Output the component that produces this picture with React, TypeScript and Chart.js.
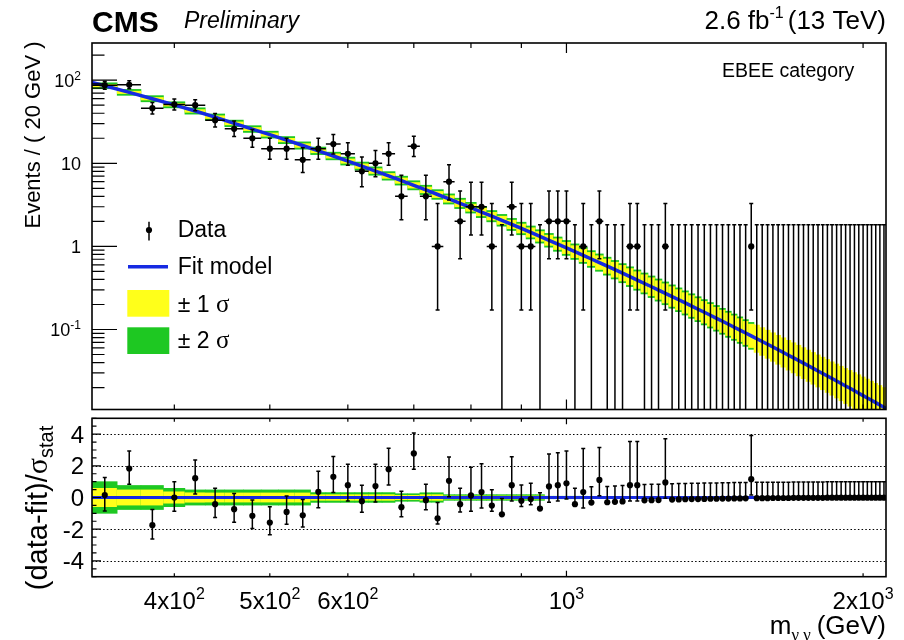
import React, { useEffect, useRef } from "react";
import { Chart, registerables } from "chart.js";

Chart.register(...registerables);

// ---------------- data ----------------
const binCenters = [340, 360, 380, 400, 420, 440, 460, 480, 500, 520, 540, 560, 580, 600, 620, 640, 660, 680, 700, 720, 740, 760, 780, 800, 820, 840, 860, 880, 900, 920, 940, 960, 980, 1000, 1020, 1040, 1060, 1080, 1100, 1120, 1140, 1160, 1180, 1200, 1220, 1240, 1260, 1280, 1300, 1320, 1340, 1360, 1380, 1400, 1420, 1440, 1460, 1480, 1500, 1520, 1540, 1560, 1580, 1600, 1620, 1640, 1660, 1680, 1700, 1720, 1740, 1760, 1780, 1800, 1820, 1840, 1860, 1880, 1900, 1920, 1940, 1960, 1980, 2000, 2020, 2040, 2060, 2080, 2100];
const binHalfWidth = 10;

const counts = [87, 88, 46, 51, 50, 33, 26, 20, 15, 15,
  11, 15, 17, 13, 8, 10, 13, 4, 16, 4,
  1, 6, 2, 3, 3, 1, 0, 3, 1, 1,
  0, 2, 2, 2, 0, 1, 0, 2, 0, 0,
  0, 1, 1, 0, 0, 0, 1, 0, 0, 0,
  0, 0, 0, 0, 0, 0, 0, 0, 0, 0,
  1, 0, 0, 0, 0, 0, 0, 0, 0, 0,
  0, 0, 0, 0, 0, 0, 0, 0, 0, 0,
  0, 0, 0, 0, 0, 0, 0, 0, 0];

const pulls = [0.15, 1.83, -1.75, 0.0, 1.22, -0.42, -0.74, -1.16, -1.58, -0.91,
  -1.12, 0.36, 1.31, 0.78, -0.23, 0.72, 1.79, -0.61, 2.78, -0.17,
  -1.31, 1.05, -0.42, 0.13, 0.34, -0.51, -1.06, 0.78, -0.21, -0.1,
  -0.7, 0.7, 0.78, 0.9, -0.42, 0.34, -0.32, 1.11, -0.3, -0.27,
  -0.25, 0.78, 0.78, -0.18, -0.17, -0.16, 0.95, -0.13, -0.12, -0.11,
  -0.1, -0.1, -0.09, -0.08, -0.08, -0.07, -0.07, -0.06, -0.06, -0.05,
  1.16, -0.04, -0.04, -0.04, -0.03, -0.03, -0.03, -0.03, -0.02, -0.02,
  -0.02, -0.02, -0.02, -0.02, -0.02, -0.01, -0.01, -0.01, -0.01, -0.01,
  -0.01, -0.01, -0.01, -0.01, -0.01, -0.01, -0.01, -0.01, -0.01];

const fitMass = [330, ...binCenters, 2110];
const fitValues = [94, 85.6, 71.3, 59.8, 50.5, 42.6, 35.9, 30.2, 25.8, 22.1, 19.0,
  16.35, 14.12, 12.23, 10.62, 9.24, 8.06, 7.05, 6.18, 5.43, 4.78,
  4.21, 3.72, 3.29, 2.92, 2.59, 2.31, 2.06, 1.836, 1.642, 1.47,
  1.318, 1.184, 1.064, 0.958, 0.864, 0.78, 0.705, 0.638, 0.578, 0.524,
  0.476, 0.432, 0.393, 0.358, 0.3266, 0.2982, 0.2723, 0.249, 0.2279, 0.2087,
  0.1913, 0.1755, 0.1612, 0.1482, 0.1363, 0.1255, 0.1156, 0.1066, 0.0983, 0.0908,
  0.0838, 0.0775, 0.0717, 0.0664, 0.0615, 0.057, 0.0529, 0.049, 0.0456, 0.0423,
  0.0394, 0.0366, 0.0341, 0.0317, 0.0296, 0.0276, 0.0257, 0.024, 0.0224, 0.0209,
  0.0196, 0.0183, 0.0171, 0.016, 0.015, 0.01406, 0.01318, 0.01236, 0.01159, 0.01123];

// top panel bands: relative half-widths (%) of the fit, per bin
const greenPct = [9.6, 9.6, 9.9, 9.9, 10.2, 10.2, 10.5, 10.8, 11.1, 11.4,
  11.7, 12.0, 12.3, 12.7, 13.0, 13.3, 13.6, 14.2, 14.6, 14.9,
  15.5, 16.2, 16.5, 17.1, 17.8, 18.1, 18.8, 19.4, 20.1, 20.8,
  21.4, 22.1, 23.1, 24.2, 25.2, 26.3, 27.3, 28.4, 29.5, 30.5,
  31.6, 32.7, 33.8, 34.9, 36.1, 37.2, 38.4, 39.5, 40.3, 41.1,
  41.9, 42.6, 43.4, 43.8, 44.2, 44.6, 45.0, 45.4, 45.8, 46.2,
  46.6];
const yellowPct = [4.3, 4.3, 4.5, 4.5, 4.8, 4.8, 5.1, 5.4, 5.7, 6.0,
  6.3, 6.6, 6.9, 7.2, 7.5, 7.8, 8.1, 8.7, 9.0, 9.3,
  9.9, 10.5, 10.8, 11.4, 12.0, 12.3, 13.0, 13.6, 14.2, 14.9,
  15.5, 16.2, 17.1, 18.1, 19.1, 20.1, 21.1, 22.1, 23.1, 24.2,
  25.2, 26.3, 27.3, 28.4, 29.5, 30.5, 31.6, 32.7, 33.5, 34.2,
  34.9, 35.7, 36.4, 36.8, 37.2, 37.6, 38.0, 38.4, 38.7, 39.1,
  39.5, 47.5, 48.3, 49.1, 49.9, 50.8, 51.6, 52.5, 53.3, 54.2,
  55.0, 55.9, 56.8, 57.6, 58.5, 59.4, 60.3, 61.6, 62.9, 64.3,
  65.7, 67.1, 68.5, 69.4, 70.4, 71.3, 72.2, 73.2, 74.2];

// bottom panel bands (units of sigma_stat)
const pullBand2 = [1.02, 0.78, 0.78, 0.6, 0.5, 0.5, 0.5, 0.5, 0.5, 0.5,
  0.5, 0.33, 0.33, 0.33, 0.33, 0.33, 0.33, 0.26, 0.26, 0.32,
  0.32, 0.2, 0.2, 0.2, 0.2, 0.2, 0.2, 0.2, 0.2, 0.2,
  0.2, 0.1, 0.1, 0.1, 0.1, 0.1, 0.06, 0.06, 0.06, 0.06,
  0.05, 0.05, 0.05, 0.05, 0.05, 0.05, 0.05, 0.05, 0.05, 0.05,
  0.04, 0.04, 0.04, 0.04, 0.04, 0.04, 0.04, 0.04, 0.04, 0.04,
  0.03, 0.03, 0.03, 0.03, 0.03, 0.03, 0.03, 0.03, 0.03, 0.03,
  0.02, 0.02, 0.02, 0.02, 0.02, 0.02, 0.02, 0.02, 0.02, 0.02,
  0.02, 0.02, 0.02, 0.02, 0.02, 0.02, 0.02, 0.02, 0.02];
const pullBand1 = [0.6, 0.5, 0.5, 0.38, 0.32, 0.31, 0.31, 0.31, 0.31, 0.31,
  0.31, 0.2, 0.2, 0.2, 0.2, 0.2, 0.2, 0.16, 0.16, 0.2,
  0.2, 0.12, 0.12, 0.12, 0.12, 0.12, 0.12, 0.12, 0.12, 0.12,
  0.12, 0.06, 0.06, 0.06, 0.06, 0.06, 0.04, 0.04, 0.04, 0.04,
  0.03, 0.03, 0.03, 0.03, 0.03, 0.03, 0.03, 0.03, 0.03, 0.03,
  0.02, 0.02, 0.02, 0.02, 0.02, 0.02, 0.02, 0.02, 0.02, 0.02,
  0.01, 0.01, 0.01, 0.01, 0.01, 0.01, 0.01, 0.01, 0.01, 0.01,
  0.01, 0.01, 0.01, 0.01, 0.01, 0.01, 0.01, 0.01, 0.01, 0.01,
  0.01, 0.01, 0.01, 0.01, 0.01, 0.01, 0.01, 0.01, 0.01];

// axes
const xMin = 330;
const xMax = 2110;
const yTopMin = 0.0109;
const yTopMax = 280;
const yBotMin = -5;
const yBotMax = 5;
const xTickValues = [400, 500, 600, 700, 800, 900, 1000, 2000];
const xLabelValues = [400, 500, 600, 1000, 2000];
const xLabelBase = ["4x10", "5x10", "6x10", "10", "2x10"];
const xLabelExp = ["2", "2", "2", "3", "3"];
const yTopLabelValues = [100, 10, 1, 0.1];
const yTopLabelBase = ["10", "10", "1", "10"];
const yTopLabelExp = ["2", "", "", "-1"];
const yBotLabelValues = [4, 2, 0, -2, -4];
const yBotGridValues = [4, 2, 0, -2, -4];

// ---------------- style ----------------
const BLUE = "rgb(22,42,226)";
const YELLOW = "#ffff1a";
const GREEN = "rgb(30,200,34)";
const SANS = '"Liberation Sans", Arial, Helvetica, sans-serif';
const SERIF = '"Liberation Serif", "DejaVu Serif", "Times New Roman", serif';
const TOP_H = 414;
const BOT_H = 226;
const CAP = 2;
const MARKER_R = 3.1;
const BAR_W = 1.5;

function poissonLow(n: number) {
  if (n <= 0) return 0;
  const a = 1 - 1 / (9 * n) - 1 / (3 * Math.sqrt(n));
  return n * a * a * a;
}
function poissonHigh(n: number) {
  const m = n + 1;
  const a = 1 - 1 / (9 * m) + 1 / (3 * Math.sqrt(m));
  return m * a * a * a;
}

type Seg = { text: string; font: string; dy?: number; gap?: number };
function rich(ctx: CanvasRenderingContext2D, segs: Seg[], x: number, y: number, align: "left" | "right" | "center") {
  ctx.textAlign = "left";
  ctx.textBaseline = "alphabetic";
  let total = 0;
  const widths = segs.map((s) => {
    ctx.font = s.font;
    const w = ctx.measureText(s.text).width;
    total += w + (s.gap || 0);
    return w;
  });
  let cx = align === "right" ? x - total : align === "center" ? x - total / 2 : x;
  segs.forEach((s, i) => {
    ctx.font = s.font;
    ctx.fillText(s.text, cx, y + (s.dy || 0));
    cx += widths[i] + (s.gap || 0);
  });
}

function clipArea(ctx: CanvasRenderingContext2D, a: any) {
  ctx.beginPath();
  ctx.rect(a.left, a.top, a.right - a.left, a.bottom - a.top);
  ctx.clip();
}

function drawXTicks(ctx: CanvasRenderingContext2D, xs: any, a: any, major: number, minor: number) {
  ctx.beginPath();
  xTickValues.forEach((v) => {
    const px = xs.getPixelForValue(v);
    const len = v === 1000 ? major : minor;
    ctx.moveTo(px, a.bottom);
    ctx.lineTo(px, a.bottom - len);
    ctx.moveTo(px, a.top);
    ctx.lineTo(px, a.top + len);
  });
  ctx.stroke();
}

const topPlugin = {
  id: "topPanel",
  beforeDatasetsDraw(chart: any) {
    const { ctx, chartArea: a } = chart;
    const xs = chart.scales.x;
    const ys = chart.scales.y;
    ctx.save();
    clipArea(ctx, a);
    binCenters.forEach((m, k) => {
      const fv = fitValues[k + 1];
      const x0 = xs.getPixelForValue(m - binHalfWidth);
      const x1 = xs.getPixelForValue(m + binHalfWidth);
      const g = greenPct[k];
      if (g !== undefined) {
        const r = 1 + g / 100;
        const yt = ys.getPixelForValue(fv * r);
        const yb = ys.getPixelForValue(fv / r);
        ctx.fillStyle = GREEN;
        ctx.fillRect(x0 - 0.3, yt, x1 - x0 + 0.6, yb - yt);
      }
      const r1 = 1 + yellowPct[k] / 100;
      const yt1 = ys.getPixelForValue(fv * r1);
      const yb1 = ys.getPixelForValue(fv / r1);
      ctx.fillStyle = YELLOW;
      ctx.fillRect(x0 - 0.3, yt1, x1 - x0 + 0.6, yb1 - yt1);
    });
    ctx.restore();
  },
  beforeDatasetDraw(chart: any, args: any) {
    if (args.index !== 0) return;
    const { ctx, chartArea: a } = chart;
    const xs = chart.scales.x;
    const ys = chart.scales.y;
    ctx.save();
    clipArea(ctx, a);
    ctx.strokeStyle = "#000";
    ctx.lineWidth = BAR_W;
    ctx.beginPath();
    binCenters.forEach((m, k) => {
      const n = counts[k];
      const px = xs.getPixelForValue(m);
      const yHi = ys.getPixelForValue(poissonHigh(n));
      const yLo = n > 0 ? ys.getPixelForValue(poissonLow(n)) : a.bottom + 3;
      ctx.moveTo(px, yLo);
      ctx.lineTo(px, yHi);
      ctx.moveTo(px - CAP, yHi);
      ctx.lineTo(px + CAP, yHi);
      if (n > 0) {
        ctx.moveTo(px - CAP, yLo);
        ctx.lineTo(px + CAP, yLo);
        const py = ys.getPixelForValue(n);
        ctx.moveTo(xs.getPixelForValue(m - binHalfWidth), py);
        ctx.lineTo(xs.getPixelForValue(m + binHalfWidth), py);
      }
    });
    ctx.stroke();
    ctx.restore();
  },
  afterDraw(chart: any) {
    const { ctx, chartArea: a } = chart;
    const xs = chart.scales.x;
    const ys = chart.scales.y;
    ctx.save();
    ctx.strokeStyle = "#000";
    ctx.fillStyle = "#000";
    ctx.lineWidth = 1.2;
    drawXTicks(ctx, xs, a, 10, 5);
    ctx.beginPath();
    for (let e = -2; e <= 2; e++) {
      for (let j = 1; j <= 9; j++) {
        const v = j * Math.pow(10, e);
        if (v < yTopMin || v > yTopMax) continue;
        const py = ys.getPixelForValue(v);
        const len = j === 1 ? 25 : 12.5;
        ctx.moveTo(a.left, py);
        ctx.lineTo(a.left + len, py);
      }
    }
    ctx.stroke();
    ctx.lineWidth = 1.6;
    ctx.strokeRect(a.left, a.top, a.right - a.left, a.bottom - a.top);

    // y labels
    yTopLabelValues.forEach((v, i) => {
      const py = ys.getPixelForValue(v);
      const segs: Seg[] = [{ text: yTopLabelBase[i], font: `18px ${SANS}` }];
      if (yTopLabelExp[i]) segs.push({ text: yTopLabelExp[i], font: `12px ${SANS}`, dy: -7 });
      rich(ctx, segs, 81, py + 7, "right");
    });

    // y title
    ctx.save();
    ctx.translate(40, 135);
    ctx.rotate(-Math.PI / 2);
    rich(ctx, [{ text: "Events / ( 20 GeV )", font: `22px ${SANS}` }], 0, 0, "center");
    ctx.restore();

    // header
    rich(ctx, [{ text: "CMS", font: `bold 30px ${SANS}` }], 92, 32, "left");
    rich(ctx, [{ text: "Preliminary", font: `italic 23px ${SANS}` }], 184, 28, "left");
    rich(ctx, [
      { text: "2.6 fb", font: `26px ${SANS}` },
      { text: "-1", font: `16px ${SANS}`, dy: -11, gap: 4 },
      { text: "(13 TeV)", font: `26px ${SANS}` },
    ], 886, 29, "right");
    rich(ctx, [{ text: "EBEE category", font: `19.5px ${SANS}` }], 722, 77, "left");

    // legend
    ctx.lineWidth = BAR_W;
    ctx.beginPath();
    ctx.moveTo(149, 221.7);
    ctx.lineTo(149, 240.5);
    ctx.stroke();
    ctx.beginPath();
    ctx.arc(149, 230, MARKER_R, 0, Math.PI * 2);
    ctx.fill();
    rich(ctx, [{ text: "Data", font: `23px ${SANS}` }], 177.7, 237, "left");
    ctx.strokeStyle = BLUE;
    ctx.lineWidth = 3.5;
    ctx.beginPath();
    ctx.moveTo(128, 266.7);
    ctx.lineTo(168, 266.7);
    ctx.stroke();
    rich(ctx, [{ text: "Fit model", font: `23px ${SANS}` }], 177.7, 274, "left");
    ctx.fillStyle = YELLOW;
    ctx.fillRect(127.3, 290, 42, 26.7);
    ctx.fillStyle = GREEN;
    ctx.fillRect(127.3, 327.3, 42, 26.7);
    ctx.fillStyle = "#000";
    rich(ctx, [{ text: "± 1 ", font: `23px ${SANS}` }, { text: "σ", font: `25px ${SERIF}` }], 177.7, 311.7, "left");
    rich(ctx, [{ text: "± 2 ", font: `23px ${SANS}` }, { text: "σ", font: `25px ${SERIF}` }], 177.7, 348.3, "left");
    ctx.restore();
  },
};

const botPlugin = {
  id: "bottomPanel",
  beforeDatasetsDraw(chart: any) {
    const { ctx, chartArea: a } = chart;
    const xs = chart.scales.x;
    const ys = chart.scales.y;
    ctx.save();
    clipArea(ctx, a);
    // dotted grid
    ctx.strokeStyle = "#000";
    ctx.lineWidth = 1;
    ctx.setLineDash([1.5, 2.2]);
    ctx.beginPath();
    yBotGridValues.forEach((v) => {
      const py = Math.round(ys.getPixelForValue(v)) + 0.5;
      ctx.moveTo(a.left, py);
      ctx.lineTo(a.right, py);
    });
    ctx.stroke();
    ctx.setLineDash([]);
    binCenters.forEach((m, k) => {
      const x0 = xs.getPixelForValue(m - binHalfWidth);
      const x1 = xs.getPixelForValue(m + binHalfWidth);
      const g = pullBand2[k];
      const yv = pullBand1[k];
      ctx.fillStyle = GREEN;
      const gt = ys.getPixelForValue(g);
      const gb = ys.getPixelForValue(-g);
      ctx.fillRect(x0 - 0.3, gt, x1 - x0 + 0.6, gb - gt);
      ctx.fillStyle = YELLOW;
      const yt = ys.getPixelForValue(yv);
      const yb = ys.getPixelForValue(-yv);
      ctx.fillRect(x0 - 0.3, yt, x1 - x0 + 0.6, yb - yt);
    });
    ctx.restore();
  },
  beforeDatasetDraw(chart: any, args: any) {
    if (args.index !== 0) return;
    const { ctx, chartArea: a } = chart;
    const xs = chart.scales.x;
    const ys = chart.scales.y;
    ctx.save();
    clipArea(ctx, a);
    ctx.strokeStyle = "#000";
    ctx.lineWidth = BAR_W;
    ctx.beginPath();
    binCenters.forEach((m, k) => {
      const n = counts[k];
      const p = pulls[k];
      const dyl = n - poissonLow(n);
      const dyh = poissonHigh(n) - n;
      const norm = p > 0 ? dyl : dyh;
      const eL = dyl / norm;
      const eH = dyh / norm;
      const px = xs.getPixelForValue(m);
      const yTop = ys.getPixelForValue(p + eH);
      const yBot = ys.getPixelForValue(p - eL);
      ctx.moveTo(px, yBot);
      ctx.lineTo(px, yTop);
      ctx.moveTo(px - CAP, yTop);
      ctx.lineTo(px + CAP, yTop);
      if (eL > 0) {
        ctx.moveTo(px - CAP, yBot);
        ctx.lineTo(px + CAP, yBot);
      }
    });
    ctx.stroke();
    ctx.restore();
  },
  afterDraw(chart: any) {
    const { ctx, chartArea: a } = chart;
    const xs = chart.scales.x;
    const ys = chart.scales.y;
    ctx.save();
    ctx.strokeStyle = "#000";
    ctx.fillStyle = "#000";
    ctx.lineWidth = 1.2;
    drawXTicks(ctx, xs, a, 6, 3.5);
    ctx.beginPath();
    for (let v = yBotMin; v <= yBotMax + 1e-6; v += 0.5) {
      const py = ys.getPixelForValue(v);
      const isMajor = Math.abs(v % 2) < 1e-6;
      const len = isMajor ? 9 : 4.5;
      ctx.moveTo(a.left, py);
      ctx.lineTo(a.left + len, py);
    }
    ctx.stroke();
    ctx.lineWidth = 1.6;
    ctx.strokeRect(a.left, a.top, a.right - a.left, a.bottom - a.top);

    // y labels
    yBotLabelValues.forEach((v) => {
      const py = ys.getPixelForValue(v);
      rich(ctx, [{ text: String(v), font: `24px ${SANS}` }], 84, py + 8.5, "right");
    });
    // x labels
    xLabelValues.forEach((v, i) => {
      const px = xs.getPixelForValue(v);
      rich(ctx, [
        { text: xLabelBase[i], font: `24px ${SANS}` },
        { text: xLabelExp[i], font: `16px ${SANS}`, dy: -10 },
      ], px, 609 - TOP_H, "center");
    });
    // x title
    rich(ctx, [
      { text: "m", font: `26px ${SANS}` },
      { text: "γ γ", font: `17px ${SERIF}`, dy: 6, gap: 6 },
      { text: "(GeV)", font: `26px ${SANS}` },
    ], 886, 634 - TOP_H, "right");
    // y title
    ctx.save();
    ctx.translate(47, 508 - TOP_H);
    ctx.rotate(-Math.PI / 2);
    rich(ctx, [
      { text: "(data-fit)/", font: `29px ${SANS}` },
      { text: "σ", font: `30px ${SERIF}` },
      { text: "stat", font: `20px ${SANS}`, dy: 6 },
    ], 0, 0, "center");
    ctx.restore();
    ctx.restore();
  },
};

export default function App() {
  const topRef = useRef<HTMLCanvasElement>(null);
  const botRef = useRef<HTMLCanvasElement>(null);

  useEffect(() => {
    const dataPoints = binCenters
      .map((m, k) => ({ x: m, y: counts[k] }))
      .filter((p) => p.y > 0);
    const fitPoints = fitMass.map((m, i) => ({ x: m, y: fitValues[i] }));
    const pullPoints = binCenters.map((m, k) => ({ x: m, y: pulls[k] }));
    const zeroLine = fitMass.map((m) => ({ x: m, y: 0 }));

    const common: any = {
      responsive: false,
      animation: false,
      devicePixelRatio: 1,
      events: [],
      plugins: { legend: { display: false }, tooltip: { enabled: false }, title: { display: false } },
    };

    const top = new Chart(topRef.current as HTMLCanvasElement, {
      type: "scatter",
      data: {
        datasets: [
          { label: "Data", data: dataPoints, pointRadius: MARKER_R, pointBackgroundColor: "#000", pointBorderWidth: 0, order: 0 } as any,
          { label: "Fit model", data: fitPoints, showLine: true, pointRadius: 0, borderColor: BLUE, borderWidth: 3.5, fill: false, order: 1 } as any,
        ],
      },
      options: {
        ...common,
        layout: { padding: { left: 92, right: 18, top: 43, bottom: TOP_H - 409.5 } },
        scales: {
          x: { type: "logarithmic", min: xMin, max: xMax, display: false },
          y: { type: "logarithmic", min: yTopMin, max: yTopMax, display: false },
        },
      },
      plugins: [topPlugin as any],
    });

    const bot = new Chart(botRef.current as HTMLCanvasElement, {
      type: "scatter",
      data: {
        datasets: [
          { label: "Pull", data: pullPoints, pointRadius: MARKER_R, pointBackgroundColor: "#000", pointBorderWidth: 0, order: 0 } as any,
          { label: "Fit", data: zeroLine, showLine: true, pointRadius: 0, borderColor: BLUE, borderWidth: 3, fill: false, order: 1 } as any,
        ],
      },
      options: {
        ...common,
        layout: { padding: { left: 92, right: 18, top: 418.3 - TOP_H, bottom: TOP_H + BOT_H - 576.7 } },
        scales: {
          x: { type: "logarithmic", min: xMin, max: xMax, display: false },
          y: { type: "linear", min: yBotMin, max: yBotMax, display: false },
        },
      },
      plugins: [botPlugin as any],
    });

    return () => {
      top.destroy();
      bot.destroy();
    };
  }, []);

  return (
    <div style={{ position: "fixed", left: 0, top: 0, width: 904, height: 640, background: "#fff" }}>
      <canvas ref={topRef} width={904} height={TOP_H} style={{ position: "absolute", left: 0, top: 0 }} />
      <canvas ref={botRef} width={904} height={BOT_H} style={{ position: "absolute", left: 0, top: TOP_H }} />
    </div>
  );
}
